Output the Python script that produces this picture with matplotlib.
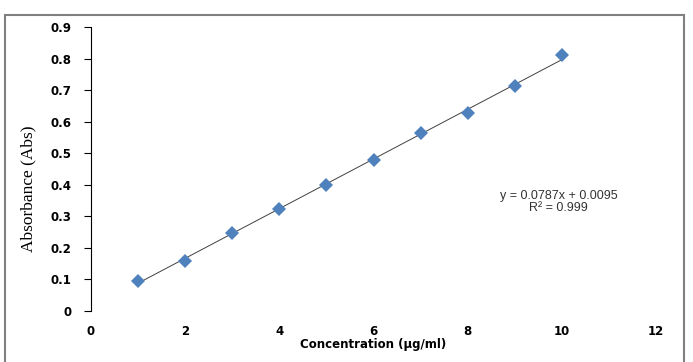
import matplotlib
matplotlib.use('Agg')
import matplotlib.pyplot as plt
from matplotlib.patches import Rectangle
import numpy as np

# data
concentration = [1, 2, 3, 4, 5, 6, 7, 8, 9, 10]
absorbance = [0.095, 0.158, 0.247, 0.323, 0.399, 0.478, 0.563, 0.628, 0.713, 0.811]
slope = 0.0787
intercept = 0.0095
x_ticks = [0, 2, 4, 6, 8, 10, 12]
y_ticks = [0, 0.1, 0.2, 0.3, 0.4, 0.5, 0.6, 0.7, 0.8, 0.9]
y_tick_labels = ['0', '0.1', '0.2', '0.3', '0.4', '0.5', '0.6', '0.7', '0.8', '0.9']

W, H = 693, 362
fig = plt.figure(figsize=(W / 100, H / 100), dpi=100)

# outer chart border (bottom edge falls outside the image)
fig.patches.append(Rectangle((5 / W, -0.05), 679 / W, 1.05 - 15 / H,
                             transform=fig.transFigure, fill=False,
                             edgecolor='#808080', linewidth=1.5))

ax = fig.add_axes([91 / W, 1 - 311 / H, 565 / W, 284 / H])

# trendline
xs = np.array([concentration[0], concentration[-1]])
ax.plot(xs, slope * xs + intercept, color='#404040', linewidth=0.7, zorder=2)

ax.plot(concentration, absorbance, linestyle='none', marker='D',
        markersize=7.5, color='#4F81BD', markeredgewidth=0, zorder=3)

ax.set_xlim(0, 12)
ax.set_ylim(0, 0.9)
ax.set_xticks(x_ticks)
ax.set_xticklabels([str(t) for t in x_ticks], fontsize=8.5, fontweight='bold')
ax.set_yticks(y_ticks)
ax.set_yticklabels(y_tick_labels, fontsize=8.5, fontweight='bold')
ax.tick_params(axis='x', length=0, pad=10)
ax.tick_params(axis='y', length=5, width=0.8, pad=9)

for side in ['top', 'right', 'bottom']:
    ax.spines[side].set_visible(False)
ax.spines['left'].set_linewidth(0.8)

ax.set_xlabel('Concentration (µg/ml)', fontsize=8.5, fontweight='bold', labelpad=0)
ax.set_ylabel('Absorbance (Abs)', fontsize=12.5, family='Liberation Serif')
ax.yaxis.set_label_coords(-0.097, 0.43)

ax.text(9.93, 0.345, 'y = 0.0787x + 0.0095\nR² = 0.999', ha='center', va='center',
        fontsize=9, family='Liberation Sans', color='#333333', linespacing=1.0)

fig.savefig('out.png', dpi=100)
